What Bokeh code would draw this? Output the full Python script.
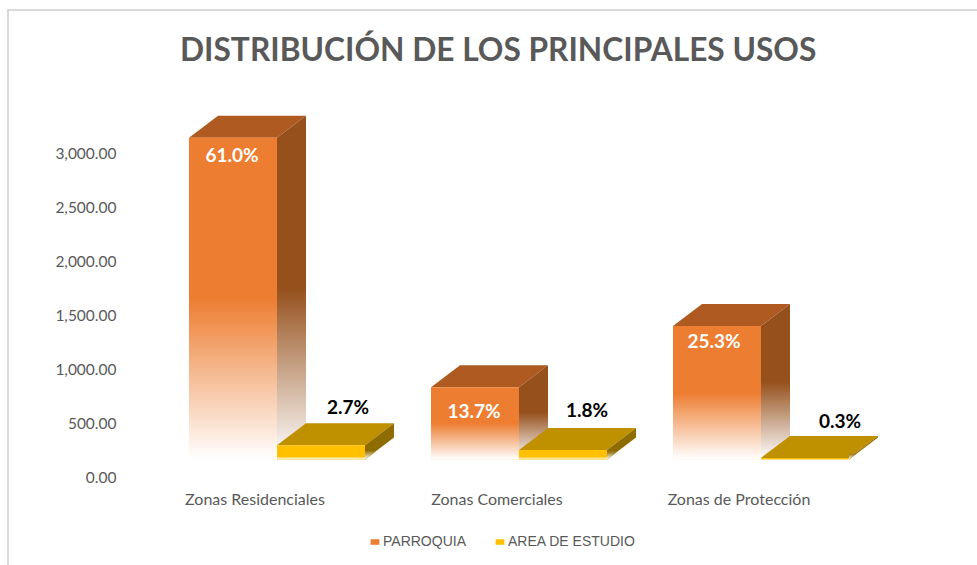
from bokeh.embed import file_html
from bokeh.layouts import column
from bokeh.resources import INLINE
from bokeh.plotting import figure
from bokeh.models import (Range1d, LinearAxis, FixedTicker, NumeralTickFormatter, Legend,
                          LegendItem)
from bokeh.core.properties import value

# ---- data ----
categories = ["Zonas Residenciales", "Zonas Comerciales", "Zonas de Protección"]
series_names = ["PARROQUIA", "AREA DE ESTUDIO"]
parroquia = [2980, 670, 1236]
area_estudio = [132, 88, 15]
parroquia_labels = ["61.0%", "13.7%", "25.3%"]
area_labels = ["2.7%", "1.8%", "0.3%"]
y_ticks = [0, 500, 1000, 1500, 2000, 2500, 3000]

# ---- layout ----
W, H = 977, 525
LEGEND_H = 40
FRAME_L, FRAME_R, FRAME_T, FRAME_B = 120, 969, 77, 477   # canvas pixels
PX_PER_VALUE = 324 / 3000
PX_PER_CAT = 242
AXIS_CAT0_PX = 254.5        # canvas x of first category label
BAR_CAT0_PX = 276.5         # canvas x of the seam between the two bars of group 0
BAR_LIFT_PX = 18            # front plane sits above the value axis zero
BAR_W = 88 / PX_PER_CAT
DX = 29 / PX_PER_CAT
DY = 22 / PX_PER_VALUE

ORANGE = dict(front="#ED7D31", top="#AE5A21", side="#95501C", fade_start=0.5)
YELLOW = dict(front="#FFC000", top="#BF9000", side="#8F6C00", fade_start=0.75)


def blend(hex_color, f):
    r, g, b = (int(hex_color[i:i + 2], 16) for i in (1, 3, 5))
    return "#%02x%02x%02x" % tuple(round(c + (255 - c) * f) for c in (r, g, b))


y_end = (FRAME_B - FRAME_T) / PX_PER_VALUE
x0 = (FRAME_L - AXIS_CAT0_PX) / PX_PER_CAT
x1 = (FRAME_R - AXIS_CAT0_PX) / PX_PER_CAT
bx0 = (FRAME_L - BAR_CAT0_PX) / PX_PER_CAT
bx1 = (FRAME_R - BAR_CAT0_PX) / PX_PER_CAT
lift = BAR_LIFT_PX / PX_PER_VALUE

p = figure(width=W, height=H, frame_width=FRAME_R - FRAME_L, frame_height=FRAME_B - FRAME_T,
           output_backend="svg", toolbar_location=None,
           x_range=Range1d(x0, x1), y_range=Range1d(0, y_end),
           min_border_left=FRAME_L, min_border_right=W - FRAME_R,
           min_border_top=FRAME_T, min_border_bottom=H - FRAME_B,
           x_axis_type=None, y_axis_type=None,
           title="DISTRIBUCIÓN DE LOS PRINCIPALES USOS")
p.extra_x_ranges = {"bars": Range1d(bx0, bx1)}
p.extra_y_ranges = {"bars": Range1d(-lift, y_end - lift)}
p.grid.visible = False
p.outline_line_color = None
p.background_fill_alpha = 0
p.border_fill_alpha = 0
p.styles = {
    "background-color": "white",
    "background-image": "linear-gradient(#d9d9d9,#d9d9d9),linear-gradient(#d9d9d9,#d9d9d9)",
    "background-size": "2px 516px, 970px 2px",
    "background-position": "7px 9px, 7px 9px",
    "background-repeat": "no-repeat",
}

p.title.align = "left"
p.title.offset = 59.5
p.title.standoff = 20
p.title.text_font = "Lato"
p.title.text_font_size = "31.7px"
p.title.text_font_style = "bold"
p.title.text_color = "#595959"

yaxis = LinearAxis(ticker=FixedTicker(ticks=y_ticks),
                   formatter=NumeralTickFormatter(format="0,0.00"))
xaxis = LinearAxis(ticker=FixedTicker(ticks=[0, 1, 2]),
                   major_label_overrides={i: c for i, c in enumerate(categories)})
for ax in (xaxis, yaxis):
    ax.axis_line_color = None
    ax.major_tick_line_color = None
    ax.minor_tick_line_color = None
    ax.major_tick_out = 0
    ax.major_label_text_font = "Lato"
    ax.major_label_text_color = "#595959"
xaxis.major_label_text_font_size = "16px"
yaxis.major_label_text_font_size = "15.5px"
xaxis.major_label_standoff = 11
yaxis.major_label_standoff = 4
p.add_layout(xaxis, "below")
p.add_layout(yaxis, "left")


def side_below(right, v, level):
    """Side-face parallelogram cut off above a horizontal level."""
    xr = right + DX
    if level >= v + DY:
        return [right, xr, xr, right], [v, v + DY, DY, 0]
    if level >= v:
        xc = right + DX * (level - v) / DY
        top_x, top_y = [right, xc, xr], [v, level, level]
    else:
        top_x, top_y = [right, xr], [level, level]
    if level >= DY:
        return top_x + [xr, right], top_y + [DY, 0]
    xc = right + DX * level / DY
    return [right, xc, right], [level, level, 0]


def draw_bar(left, v, colors):
    """One 3D bar: top face, side face and front face, the last two fading to white."""
    start = colors["fade_start"]
    right = left + BAR_W
    kw = dict(x_range_name="bars", y_range_name="bars", line_color=None)
    p.patch([left, right, right + DX, left + DX], [v, v, v + DY, v + DY],
            fill_color=colors["top"], **kw)

    px = (v + DY) * PX_PER_VALUE
    n = max(6, round(px / 2))
    xs, ys = side_below(right, v, v + DY)
    side_xs, side_ys, side_cols = [xs], [ys], [colors["side"]]
    for i in range(n):
        t = i / n
        if t < start:
            continue
        xs, ys = side_below(right, v, (v + DY) * (1 - t))
        side_xs.append(xs)
        side_ys.append(ys)
        side_cols.append(blend(colors["side"], (t + 0.5 / n - start) / (1 - start)))
    p.patches(side_xs, side_ys, fill_color=side_cols, **kw)

    n = max(4, round(v * PX_PER_VALUE / 2))
    ft, fc = [], []
    for i in range(n):
        t = i / n
        if t >= start:
            ft.append(v * (1 - t))
            fc.append(blend(colors["front"], (t + 0.5 / n - start) / (1 - start)))
    p.quad(left=[left], right=[right], top=[v], bottom=[0],
           fill_color=colors["front"], **kw)
    p.quad(left=[left] * len(ft), right=[right] * len(ft), top=ft, bottom=[0] * len(ft),
           fill_color=fc, **kw)


for i in range(len(categories)):
    draw_bar(i - BAR_W, parroquia[i], ORANGE)
    draw_bar(i, area_estudio[i], YELLOW)

# data labels: pixel nudges are placement only
o_dx, o_dy = [-1, -1, -3], [17, 23, 14]
for i, txt in enumerate(parroquia_labels):
    p.text(x=[i - BAR_W / 2], y=[parroquia[i]], text=[txt], x_offset=o_dx[i], y_offset=o_dy[i],
           x_range_name="bars", y_range_name="bars", text_align="center", text_baseline="middle",
           text_color="#ffffff", text_font=value("Lato"), text_font_size="19px", text_font_style="bold")
a_dx, a_dy = [27, 24, 35], [-39, -40, -37]
for i, txt in enumerate(area_labels):
    p.text(x=[i + BAR_W / 2], y=[area_estudio[i]], text=[txt], x_offset=a_dx[i], y_offset=a_dy[i],
           x_range_name="bars", y_range_name="bars", text_align="center", text_baseline="middle",
           text_color="#000000", text_font=value("Lato"), text_font_size="19px", text_font_style="bold")

# legend strip under the chart: a second figure whose frame fills it, so nothing is clipped
lg = figure(width=W, height=LEGEND_H, output_backend="svg", toolbar_location=None,
            x_range=Range1d(0, W), y_range=Range1d(0, LEGEND_H),
            min_border=0, x_axis_type=None, y_axis_type=None)
lg.grid.visible = False
lg.outline_line_color = None
lg.background_fill_alpha = 0
lg.border_fill_alpha = 0
lg.styles = {
    "background-color": "white",
    "background-image": "linear-gradient(#d9d9d9,#d9d9d9)",
    "background-size": "2px 40px",
    "background-position": "7px 0px",
    "background-repeat": "no-repeat",
}
# proxies outside the visible range: only their legend swatches show
proxy_o = lg.quad(left=[-50], right=[-40], bottom=[-50], top=[-40],
                  fill_color=ORANGE["front"], line_color=None)
proxy_y = lg.quad(left=[-50], right=[-40], bottom=[-50], top=[-40],
                  fill_color=YELLOW["front"], line_color=None)
legend = Legend(items=[LegendItem(label=series_names[0], renderers=[proxy_o]),
                       LegendItem(label=series_names[1], renderers=[proxy_y])],
                orientation="horizontal", location=(249, 16), border_line_color=None,
                background_fill_alpha=0, glyph_width=11, glyph_height=7, spacing=28,
                label_standoff=3, padding=0, margin=0,
                label_text_font="Liberation Sans", label_text_font_size="14px",
                label_text_color="#595959")
lg.add_layout(legend)

open("out.html", "w").write(file_html(column(p, lg, spacing=0), INLINE))
